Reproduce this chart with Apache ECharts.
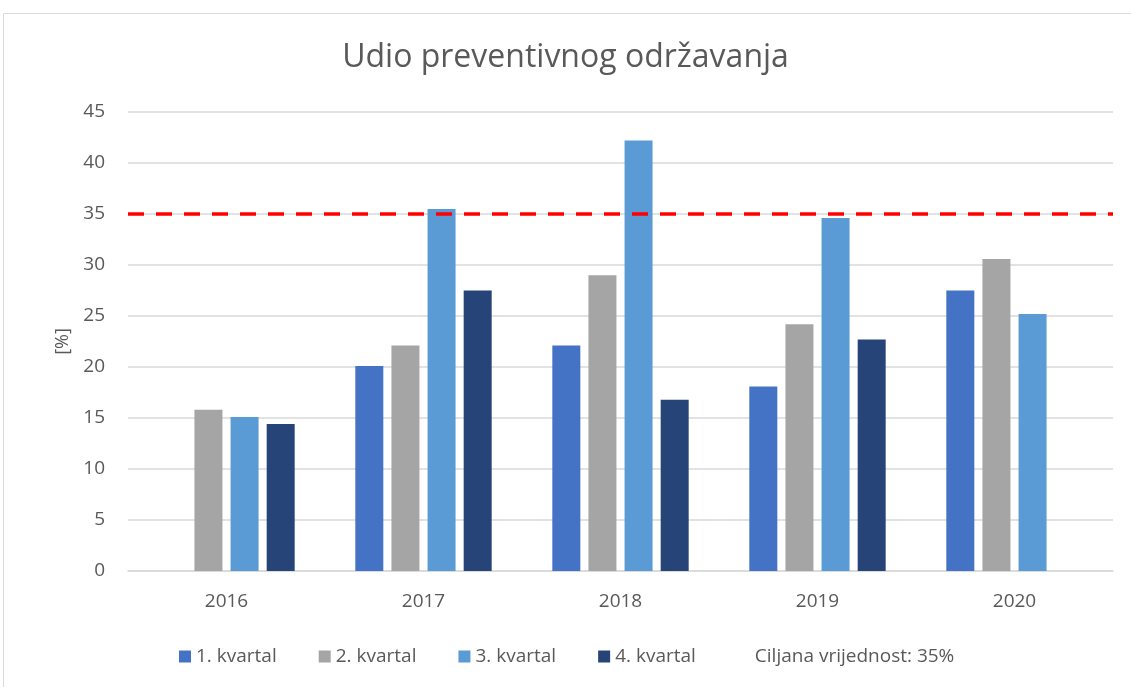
<!DOCTYPE html>
<html>
<head>
<meta charset="utf-8">
<title>Udio preventivnog održavanja</title>
<script src="https://cdn.jsdelivr.net/npm/echarts@6/dist/echarts.min.js"></script>
<style>
  html, body { margin: 0; padding: 0; background: #ffffff; }
  #chart { width: 1131px; height: 687px; }
</style>
</head>
<body>
<div id="chart"></div>
<script>
// Years on the category axis
const years = ['2016', '2017', '2018', '2019', '2020'];

// Share of preventive maintenance per quarter [%]
const q1 = [null, 20.1, 22.1, 18.1, 27.5];
const q2 = [15.8, 22.1, 29.0, 24.2, 30.6];
const q3 = [15.1, 35.5, 42.2, 34.6, 25.2];
const q4 = [14.4, 27.5, 16.8, 22.7, null];

// Target value drawn as a dashed horizontal line
const targetValue = 35;

// Series names shown in the legend
const seriesNames = ['1. kvartal', '2. kvartal', '3. kvartal', '4. kvartal'];
const targetName = 'Ciljana vrijednost: 35%';

// Value-axis ticks
const yMin = 0;
const yMax = 45;
const yStep = 5;

const FONT = 'Open Sans';
const TEXT = '#595959';
const GRID = '#d9d9d9';
const colors = ['#4472C4', '#A5A5A5', '#5B9BD5', '#264478'];

const chart = echarts.init(document.getElementById('chart'), null, { renderer: 'canvas' });

const quarterData = [q1, q2, q3, q4];
const barSeries = quarterData.map((d, i) => ({
  name: seriesNames[i],
  type: 'bar',
  data: d,
  barWidth: 28,
  barGap: '29%',
  itemStyle: { color: colors[i] },
  emphasis: { disabled: true }
}));

barSeries.push({
  name: targetName,
  type: 'line',
  data: [],
  itemStyle: { color: 'transparent' },
  lineStyle: { color: 'transparent' },
  markLine: {
    silent: true,
    symbol: ['none', 'none'],
    label: { show: false },
    lineStyle: { color: '#FF0000', width: 3.5, type: [16, 12] },
    data: [{ yAxis: targetValue }]
  }
});

chart.setOption({
  animation: false,
  textStyle: { fontFamily: FONT },
  graphic: [{
    type: 'rect',
    shape: { x: 3.5, y: 13.5, width: 1200, height: 800 },
    style: { fill: 'none', stroke: GRID, lineWidth: 1 },
    silent: true,
    z: -10
  }],
  title: {
    text: 'Udio preventivnog održavanja',
    left: 'center',
    top: 37,
    textStyle: { fontFamily: FONT, fontSize: 32, fontWeight: 'normal', color: TEXT }
  },
  legend: {
    top: 642,
    left: 174,
    itemWidth: 12,
    itemHeight: 12,
    itemGap: 42,
    icon: 'rect',
    textStyle: { fontFamily: FONT, fontSize: 19, color: TEXT },
    data: [
      { name: seriesNames[0], itemStyle: { color: colors[0] } },
      { name: seriesNames[1], itemStyle: { color: colors[1] } },
      { name: seriesNames[2], itemStyle: { color: colors[2] } },
      { name: seriesNames[3], itemStyle: { color: colors[3] } },
      { name: targetName, itemStyle: { color: 'transparent', opacity: 0 } }
    ],
    selectedMode: false
  },
  grid: { left: 128, right: 18, top: 112, bottom: 116, containLabel: false },
  xAxis: {
    type: 'category',
    data: years,
    axisLine: { lineStyle: { color: GRID, width: 1.5 } },
    axisTick: { show: false },
    axisLabel: { fontFamily: FONT, fontSize: 19, color: TEXT, margin: 21 }
  },
  yAxis: {
    type: 'value',
    min: yMin,
    max: yMax,
    interval: yStep,
    name: '[%]',
    nameLocation: 'middle',
    nameRotate: 90,
    nameGap: 56,
    nameTextStyle: { fontFamily: FONT, fontSize: 18, color: TEXT },
    axisLine: { show: false },
    axisTick: { show: false },
    axisLabel: { fontFamily: FONT, fontSize: 19, color: TEXT, margin: 23 },
    splitLine: { lineStyle: { color: GRID, width: 1.5 } }
  },
  series: barSeries
});
</script>
</body>
</html>
